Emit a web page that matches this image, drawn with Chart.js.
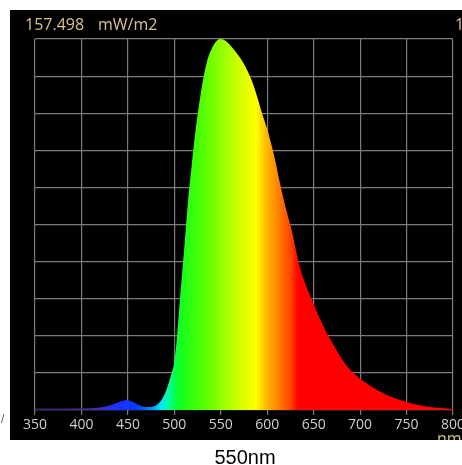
<!DOCTYPE html>
<html>
<head>
<meta charset="utf-8">
<script src="https://cdn.jsdelivr.net/npm/chart.js@4/dist/chart.umd.min.js"></script>
<style>
  html, body { margin: 0; padding: 0; background: #fff; }
  #wrap { position: relative; width: 462px; height: 465px; }
  #caption {
    position: absolute; left: 0; width: 490px; top: 446px;
    text-align: center; font: 20px "Liberation Sans", Arial, sans-serif; color: #000;
  }
</style>
</head>
<body>
<div id="wrap">
  <canvas id="spectrum-chart" width="462" height="465"></canvas>
  <div id="caption">550nm</div>
</div>
<script>
// wavelength (nm) and relative irradiance
const wavelengths = [350, 380, 410, 425, 435, 442, 449, 455, 462, 470, 478, 484, 488, 492, 496,
  500, 503, 506, 509, 512, 515, 519, 523, 528, 535, 541, 546, 550, 555, 562, 570, 576, 583, 589,
  595, 600, 605, 609, 613, 617, 622, 627, 631, 635, 641, 648, 656, 664, 675, 686, 697, 708,
  725, 743, 760, 780, 800];
const irradiance = [0.004, 0.004, 0.005, 0.009, 0.016, 0.023, 0.027, 0.022, 0.013, 0.008, 0.010,
  0.020, 0.035, 0.058, 0.09, 0.13, 0.2, 0.297, 0.386, 0.478, 0.57, 0.668, 0.757, 0.846, 0.938,
  0.978, 0.996, 1.0, 0.995, 0.978, 0.952, 0.928, 0.89, 0.846, 0.795, 0.757, 0.71, 0.668, 0.62,
  0.575, 0.525, 0.478, 0.43, 0.386, 0.34, 0.297, 0.25, 0.208, 0.16, 0.118, 0.09, 0.07, 0.045,
  0.027, 0.015, 0.007, 0.003];
const xTicks = [350, 400, 450, 500, 550, 600, 650, 700, 750, 800];
const totalLabel = '157.498';
const unitLabel = 'mW/m2';

// colour of the fill along the wavelength axis
const spectrumStops = [
  [350, '#3a2070'], [410, '#4a2aa8'], [435, '#2030ff'], [460, '#0838ff'],
  [475, '#0090ff'], [486, '#00e8ff'], [495, '#00ff90'], [505, '#10ff20'],
  [530, '#50ff00'], [555, '#a0ff00'], [575, '#e0ff00'], [588, '#ffff00'],
  [598, '#ffc000'], [612, '#ff8000'], [626, '#ff4000'], [633, '#ff0000'], [800, '#ff0000']
];

const panelPlugin = {
  id: 'panel',
  beforeDraw(chart) {
    const ctx = chart.ctx;
    ctx.save();
    ctx.fillStyle = '#000';
    ctx.fillRect(10, 10, 452, 430);
    ctx.restore();
  },
  afterDraw(chart) {
    const ctx = chart.ctx;
    ctx.save();
    ctx.beginPath();
    ctx.rect(10, 10, 452, 430);
    ctx.clip();
    ctx.fillStyle = '#d8c28e';
    ctx.font = '16px "Open Sans", sans-serif';
    ctx.textBaseline = 'alphabetic';
    ctx.fillText(totalLabel, 25, 30);
    ctx.fillText(unitLabel, 98, 30);
    ctx.fillText('1', 455, 30);
    ctx.textBaseline = 'top';
    ctx.fillText('nm', 437, 431);
    ctx.restore();
    ctx.save();
    ctx.fillStyle = '#444';
    ctx.font = '10px "DejaVu Sans", sans-serif';
    ctx.fillText('/', 1, 422);
    ctx.restore();
  }
};

function spectrumFill(context) {
  const chart = context.chart;
  if (!chart.chartArea) return null;
  const x = chart.scales.x;
  const x0 = x.getPixelForValue(350);
  const x1 = x.getPixelForValue(800);
  const g = chart.ctx.createLinearGradient(x0, 0, x1, 0);
  spectrumStops.forEach(([wl, c]) => g.addColorStop((wl - 350) / 450, c));
  return g;
}

const gridColor = '#7c7c7c';

new Chart(document.getElementById('spectrum-chart'), {
  type: 'line',
  data: {
    datasets: [{
      data: wavelengths.map((wl, i) => ({ x: wl, y: irradiance[i] })),
      fill: 'origin',
      backgroundColor: spectrumFill,
      borderWidth: 0,
      pointRadius: 0,
      cubicInterpolationMode: 'monotone'
    }]
  },
  plugins: [panelPlugin],
  options: {
    responsive: false,
    animation: false,
    layout: { padding: { left: 35, right: 9, top: 39, bottom: 0 } },
    plugins: { legend: { display: false }, tooltip: { enabled: false } },
    scales: {
      x: {
        type: 'linear',
        min: 350,
        max: 800,
        afterBuildTicks: scale => { scale.ticks = xTicks.map(v => ({ value: v })); },
        afterFit: scale => { scale.height = 55; scale.paddingLeft = 0; scale.paddingRight = 0; },
        border: { display: false },
        grid: { color: gridColor, lineWidth: 1.2, tickLength: 5 },
        ticks: {
          color: '#cfcfcf',
          padding: 2,
          maxRotation: 0,
          autoSkip: false,
          font: { family: '"Open Sans", sans-serif', size: 14 }
        }
      },
      y: {
        min: 0,
        max: 1,
        afterFit: scale => { scale.width = 0; },
        border: { display: false },
        grid: { color: gridColor, lineWidth: 1.2, drawTicks: false },
        ticks: { display: false, stepSize: 0.1 }
      }
    }
  }
});
</script>
</body>
</html>
